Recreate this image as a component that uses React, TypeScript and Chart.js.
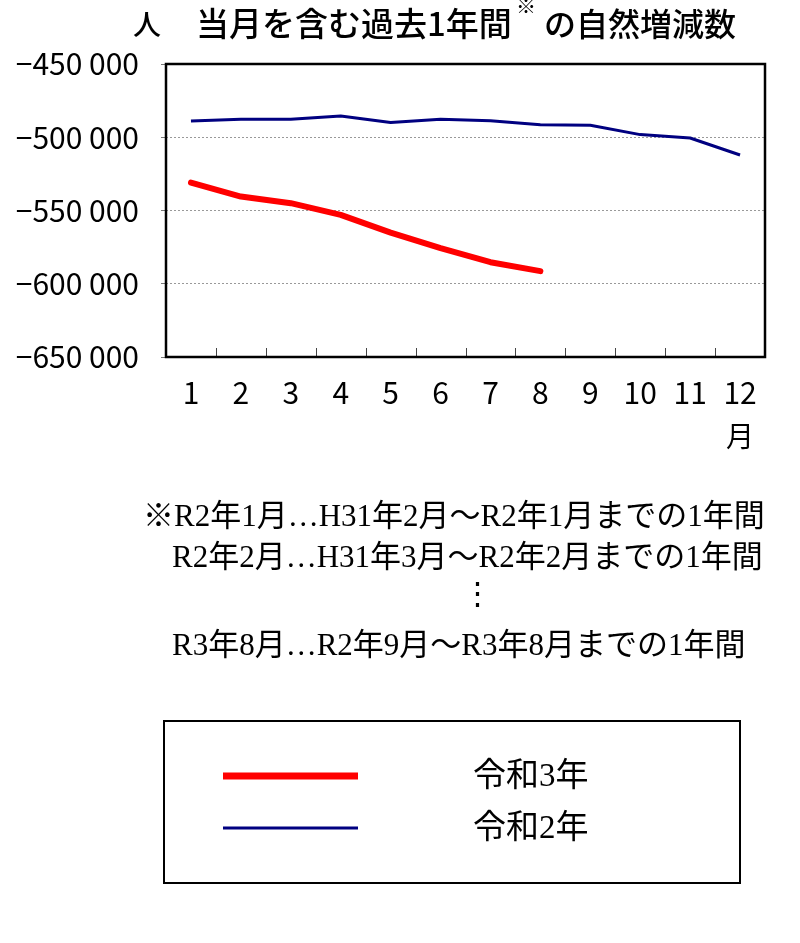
import React, { useEffect, useRef } from "react";
import { Chart, registerables } from "chart.js";

Chart.register(...registerables);

// ---- data ----
const months = ["1", "2", "3", "4", "5", "6", "7", "8", "9", "10", "11", "12"];
const r3Values = [-531000, -540500, -545000, -553000, -565100, -575700, -585300, -591400];
const r2Values = [
  -488900, -487700, -487700, -485500, -490000, -487700, -488700, -491400, -491800, -498200,
  -500500, -512100,
];
const seriesLabels = ["令和3年", "令和2年"];
const yMin = -650000;
const yMax = -450000;
const yStep = 50000;
const unitLabel = "人";
const titleMain = "当月を含む過去1年間";
const titleSup = "※";
const titleRest = "の自然増減数";
const xUnitLabel = "月";
const noteLines = [
  "※R2年1月…H31年2月～R2年1月までの1年間",
  "R2年2月…H31年3月～R2年2月までの1年間",
  "⋮",
  "R3年8月…R2年9月～R3年8月までの1年間",
];

const SANS = "'Noto Sans CJK JP', 'Liberation Sans', sans-serif";
const NUM = "'Noto Sans CJK JP', 'Liberation Sans', sans-serif";
const SERIF = "'Liberation Serif', 'Noto Sans CJK JP', serif";

function fmt(v: number): string {
  const s = String(Math.abs(v));
  const body = s.length > 3 ? s.slice(0, -3) + " " + s.slice(-3) : s;
  return (v < 0 ? "\u2212" : "") + body;
}

const framePlugin = {
  id: "frame",
  afterDraw(chart: any) {
    const { ctx, chartArea } = chart;
    const xs = chart.scales.x;
    ctx.save();
    // inward x ticks at category boundaries
    ctx.strokeStyle = "#444";
    ctx.lineWidth = 1;
    for (let i = 0; i < months.length - 1; i++) {
      const x = Math.round((xs.getPixelForValue(i) + xs.getPixelForValue(i + 1)) / 2) + 0.5;
      ctx.beginPath();
      ctx.moveTo(x, chartArea.bottom);
      ctx.lineTo(x, chartArea.bottom - 9);
      ctx.stroke();
    }
    // plot frame
    ctx.strokeStyle = "#000";
    ctx.lineWidth = 2.5;
    ctx.strokeRect(chartArea.left, chartArea.top, chartArea.right - chartArea.left, chartArea.bottom - chartArea.top);
    // x unit label
    ctx.fillStyle = "#000";
    ctx.font = "28px " + SANS;
    ctx.textAlign = "center";
    ctx.textBaseline = "middle";
    ctx.fillText(xUnitLabel, xs.getPixelForValue(months.length - 1), 436);

    // legend box
    ctx.strokeStyle = "#000";
    ctx.lineWidth = 2;
    ctx.strokeRect(164, 721, 576, 162);
    const rows = [776, 828];
    chart.data.datasets.forEach((ds: any, i: number) => {
      ctx.strokeStyle = ds.borderColor;
      ctx.lineWidth = ds.borderWidth + (i === 0 ? 1 : 0);
      ctx.beginPath();
      ctx.moveTo(223, rows[i]);
      ctx.lineTo(358, rows[i]);
      ctx.stroke();
      ctx.fillStyle = "#000";
      ctx.font = "33px " + SERIF;
      ctx.textAlign = "left";
      ctx.textBaseline = "middle";
      ctx.fillText(ds.label, 473, rows[i] + 1);
    });
    ctx.restore();
  },
};

export default function App() {
  const ref = useRef<HTMLCanvasElement | null>(null);

  useEffect(() => {
    if (!ref.current) return;
    const chart = new Chart(ref.current, {
      type: "line",
      data: {
        labels: months,
        datasets: [
          {
            label: seriesLabels[0],
            data: r3Values,
            borderColor: "#ff0000",
            borderWidth: 6,
            pointRadius: 0,
            tension: 0,
            borderCapStyle: "round",
            borderJoinStyle: "round",
          },
          {
            label: seriesLabels[1],
            data: r2Values,
            borderColor: "#000080",
            borderWidth: 3,
            pointRadius: 0,
            tension: 0,
            borderJoinStyle: "round",
          },
        ],
      },
      options: {
        animation: false,
        responsive: false,
        devicePixelRatio: 1,
        layout: { padding: { top: 64, right: 35, left: 0, bottom: 0 } },
        plugins: {
          legend: { display: false },
          title: { display: false },
          tooltip: { enabled: false },
        },
        scales: {
          x: {
            offset: true,
            grid: { display: false, drawTicks: false },
            border: { display: false },
            ticks: {
              color: "#000",
              font: { family: NUM, size: 30 },
              padding: 18,
              maxRotation: 0,
              autoSkip: false,
            },
            afterFit(scale: any) {
              scale.height = 943 - 357;
            },
          },
          y: {
            min: yMin,
            max: yMax,
            grid: {
              color: "#999",
              tickColor: "#777",
              tickLength: 5,
              lineWidth: 1,
            },
            border: { display: false, dash: [2, 2] },
            ticks: {
              stepSize: yStep,
              color: "#000",
              font: { family: NUM, size: 30 },
              padding: 22,
              callback: (v: any) => fmt(Number(v)),
            },
            afterFit(scale: any) {
              scale.width = 166;
            },
          },
        },
      },
      plugins: [framePlugin],
    });
    return () => chart.destroy();
  }, []);

  const titleBase: React.CSSProperties = {
    position: "absolute",
    fontFamily: SANS,
    fontWeight: 500,
    lineHeight: "40px",
    whiteSpace: "nowrap",
    color: "#000",
  };

  return (
    <div style={{ position: "absolute", left: 0, top: 0, width: 800, height: 943, background: "#fff" }}>
      <canvas ref={ref} width={800} height={943} style={{ position: "absolute", left: 0, top: 0 }} />
      <div style={{ ...titleBase, left: 133, top: 3, fontSize: 28 }}>{unitLabel}</div>
      <div style={{ ...titleBase, left: 196, top: 2, fontSize: 33 }}>{titleMain}</div>
      <div style={{ ...titleBase, left: 516, top: -14, fontSize: 20, fontWeight: 400 }}>{titleSup}</div>
      <div style={{ ...titleBase, left: 544, top: 2, fontSize: 32 }}>{titleRest}</div>
      {noteLines.map((t, i) => {
        const pos = [
          { left: 143, top: 496 },
          { left: 172, top: 537 },
          { left: 462, top: 574 },
          { left: 172, top: 625 },
        ][i];
        return (
          <div
            key={i}
            style={{
              position: "absolute",
              left: pos.left,
              top: pos.top,
              fontFamily: SERIF,
              fontSize: 31,
              lineHeight: "40px",
              whiteSpace: "nowrap",
              color: "#000",
            }}
          >
            {t}
          </div>
        );
      })}
    </div>
  );
}
